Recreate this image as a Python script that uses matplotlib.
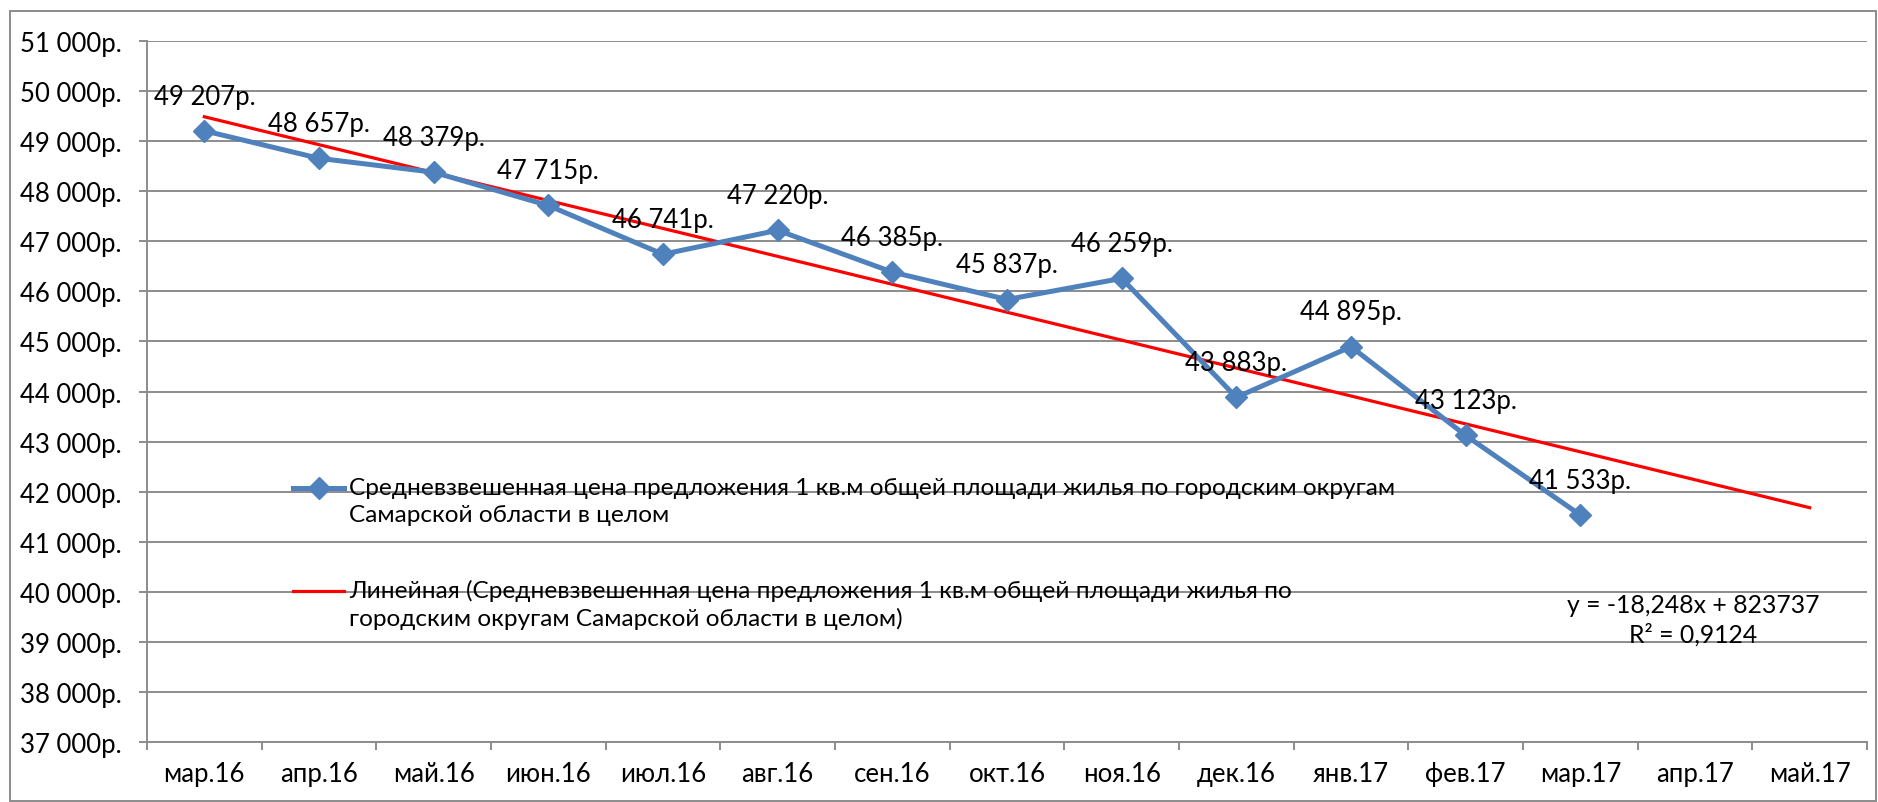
import matplotlib
matplotlib.use('Agg')
import matplotlib.pyplot as plt
import numpy as np
from matplotlib.legend_handler import HandlerLine2D
from matplotlib.patches import Rectangle

plt.rcParams['font.family'] = ['Lato', 'DejaVu Sans']

months = ['мар.16', 'апр.16', 'май.16', 'июн.16', 'июл.16', 'авг.16', 'сен.16',
          'окт.16', 'ноя.16', 'дек.16', 'янв.17', 'фев.17', 'мар.17', 'апр.17', 'май.17']
prices = [49207, 48657, 48379, 47715, 46741, 47220, 46385, 45837, 46259,
          43883, 44895, 43123, 41533]
series_name = ('Средневзвешенная цена предложения 1 кв.м общей площади жилья по городским округам\n'
               'Самарской области в целом')
trend_name = ('Линейная (Средневзвешенная цена предложения 1 кв.м общей площади жилья по\n'
              'городским округам Самарской области в целом)')
equation = 'y = -18,248x + 823737\nR² = 0,9124'


def rub(v):
    return f'{v:,.0f}'.replace(',', ' ') + 'р.'


class FirstLineHandler(HandlerLine2D):
    # поднимаем значок легенды к первой строке подписи
    def create_artists(self, legend, orig_handle, xdescent, ydescent, width, height, fontsize, trans):
        return super().create_artists(legend, orig_handle, xdescent, ydescent - 19,
                                      width, height, fontsize, trans)


fs = 18.5
fig = plt.figure(figsize=(18.78, 8.03), dpi=100)
ax = fig.add_axes([147 / 1878, 1 - 743 / 803, (1867 - 147) / 1878, (743 - 42) / 803])

x = np.arange(len(prices))
xt = np.arange(len(months))
k, b = np.polyfit(x, prices, 1)

ax.plot(xt, k * xt + b, color='#ff0000', lw=2.3, zorder=3, label=trend_name)
ax.plot(x, prices, color='#4f81bd', lw=3.6, marker='D', ms=11.5, zorder=4, label=series_name)

for xi, p in zip(x, prices):
    ax.annotate(rub(p), (xi, p), xytext=(0, 25), textcoords='offset points',
                ha='center', va='center', fontsize=fs, zorder=5)

ax.set_xlim(-0.5, len(months) - 0.5)
ax.set_ylim(37000, 51000)
ax.set_yticks(np.arange(37000, 51001, 1000))
ax.set_yticklabels([rub(v) for v in np.arange(37000, 51001, 1000)])
ax.set_xticks(np.arange(-0.5, len(months), 1))
ax.set_xticklabels([])
ax.set_xticks(xt, minor=True)
ax.set_xticklabels(months, minor=True)
ax.tick_params(axis='x', which='major', length=6, width=1.4, color='#8c8c8c', direction='out')
ax.tick_params(axis='x', which='minor', length=0, pad=14, labelsize=fs)
ax.tick_params(axis='y', length=6, width=1.4, color='#8c8c8c', pad=12, labelsize=fs)
ax.grid(axis='y', color='#8c8c8c', lw=1.4, zorder=0)
ax.set_axisbelow(True)
for s in ['top', 'right']:
    ax.spines[s].set_visible(False)
for s in ['left', 'bottom']:
    ax.spines[s].set_color('#8c8c8c')
    ax.spines[s].set_linewidth(1.4)

h, l = ax.get_legend_handles_labels()
leg = ax.legend(h[::-1], l[::-1], loc='upper left', bbox_to_anchor=(293 / 1878, 1 - 478 / 803),
                bbox_transform=fig.transFigure, frameon=False, fontsize=17.6, borderpad=0,
                borderaxespad=0, handlelength=2.1, handletextpad=0.2, labelspacing=2.2,
                numpoints=1, handler_map={plt.Line2D: FirstLineHandler()})
for t in leg.get_texts():
    t.set_linespacing(1.35)

fig.text(1693 / 1878, 1 - 620 / 803, equation, ha='center', va='center', fontsize=17.8,
         linespacing=1.3)

fig.patches.append(Rectangle((10 / 1878, 1 / 803), 1866 / 1878, 790 / 803,
                             transform=fig.transFigure, fill=False, ec='#8c8c8c', lw=1.4))

plt.savefig('out.png', dpi=100)
